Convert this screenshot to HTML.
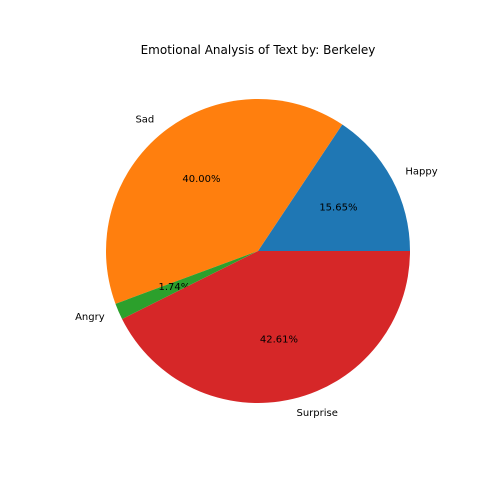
<!DOCTYPE html>
<html><head><meta charset="utf-8"><style>body{margin:0;background:#fff}svg{display:block}text{font-family:"DejaVu Sans","Liberation Sans",sans-serif}</style></head>
<body>
<svg id="chart" width="504" height="504">
<rect width="504" height="504" fill="#fff"/>
<text x="258" y="54" text-anchor="middle" font-size="12" fill="#000">Emotional Analysis of Text by: Berkeley</text>
<g id="slices"></g>
</svg>
<script>
const categories = ["Happy", "Sad", "Angry", "Surprise"];
const values = [15.65, 40.00, 1.74, 42.61];
const pctLabels = ["15.65%", "40.00%", "1.74%", "42.61%"];
const colors = ["#1f77b4", "#ff7f0e", "#2ca02c", "#d62728"];
const cx = 258, cy = 251, r = 152;
const g = document.getElementById('slices');
const ns = 'http://www.w3.org/2000/svg';
const total = values.reduce((a, b) => a + b, 0);
let start = 0;
values.forEach((v, i) => {
  const a0 = start, a1 = start + v / total * 2 * Math.PI;
  start = a1;
  const x0 = cx + r * Math.cos(a0), y0 = cy - r * Math.sin(a0);
  const x1 = cx + r * Math.cos(a1), y1 = cy - r * Math.sin(a1);
  const large = (a1 - a0) > Math.PI ? 1 : 0;
  const p = document.createElementNS(ns, 'path');
  p.setAttribute('d', `M${cx},${cy} L${x0},${y0} A${r},${r} 0 ${large} 0 ${x1},${y1} Z`);
  p.setAttribute('fill', colors[i]);
  
  
  g.appendChild(p);
  const am = (a0 + a1) / 2;
  const lx = cx + 1.1 * r * Math.cos(am), ly = cy - 1.1 * r * Math.sin(am);
  const t = document.createElementNS(ns, 'text');
  t.setAttribute('x', lx); t.setAttribute('y', ly + 2.5);
  t.setAttribute('font-size', '10');
  t.setAttribute('text-anchor', Math.cos(am) > 0 ? 'start' : 'end');
  t.textContent = categories[i];
  
  
  g.appendChild(t);
  const px = cx + 0.6 * r * Math.cos(am), py = cy - 0.6 * r * Math.sin(am);
  const pt = document.createElementNS(ns, 'text');
  pt.setAttribute('x', px); pt.setAttribute('y', py + 2.5);
  pt.setAttribute('font-size', '10');
  pt.setAttribute('text-anchor', 'middle');
  pt.textContent = pctLabels[i];
  
  
  g.appendChild(pt);
});
</script>
</body></html>
